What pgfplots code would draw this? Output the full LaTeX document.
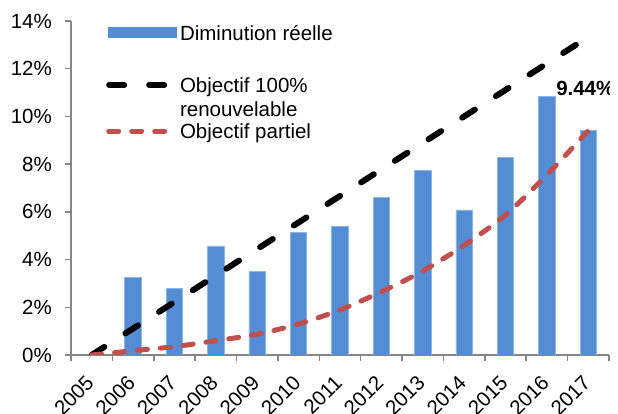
\documentclass[border=0pt]{standalone}
\usepackage{pgfplots}
\pgfplotsset{compat=1.18}
\usepackage{fontspec}
\setmainfont{Liberation Sans}
\definecolor{barblue}{RGB}{84,141,212}
\definecolor{baredge}{RGB}{141,180,226}
\definecolor{redline}{RGB}{192,80,77}
\definecolor{axgray}{RGB}{134,134,134}
\begin{document}
\begin{tikzpicture}[font=\fontsize{20.5}{24}\selectfont]
\begin{axis}[
  name=ax,
  scale only axis,
  width=538pt, height=334pt,
  xmin=-0.5, xmax=12.5, ymin=0, ymax=14,
  axis lines=left,
  axis line style={-, draw=axgray, line width=1.5pt},
  xtick={-0.5,0.5,1.5,2.5,3.5,4.5,5.5,6.5,7.5,8.5,9.5,10.5,11.5,12.5},
  x tick label as interval,
  xticklabels={2005,2006,2007,2008,2009,2010,2011,2012,2013,2014,2015,2016,2017},
  ytick={0,2,4,6,8,10,12,14},
  yticklabels={0\%,2\%,4\%,6\%,8\%,10\%,12\%,14\%},
  tick align=outside,
  major tick length=6pt,
  tick style={draw=axgray, line width=1.5pt},
  x tick label style={anchor=east, inner sep=0pt, xshift=-1.5pt, yshift=-18pt, rotate=45},
  y tick label style={anchor=east, inner sep=0pt, xshift=-13pt},
  legend style={at={(rel axis cs:0.065,1)}, anchor=north west, yshift=-3pt,
    draw=none, fill=none, inner sep=0pt, row sep=0pt, column sep=0pt,
    nodes={inner xsep=3.5pt, inner ysep=1pt, text depth=}},
  legend cell align=left,
  legend style={cells={align=left}},
]
\addplot[ybar, bar width=16.5pt, bar shift=0pt, fill=barblue, draw=baredge, line width=0.75pt,
  legend image code/.code={\fill[barblue] (2pt,-5pt) rectangle (70pt,5pt);}]
  coordinates {(1,3.26) (2,2.79) (3,4.57) (4,3.49) (5,5.14) (6,5.38) (7,6.61) (8,7.75) (9,6.08) (10,8.28) (11,10.83) (12,9.43)};
\addlegendentry{Diminution réelle}
\addplot[black, line width=6pt, line cap=round, dash pattern=on 15pt off 25pt,
  legend image code/.code={\path[draw=none, fill=none] (0,0) -- (0,55.5pt); \draw[black, line width=6pt, line cap=round, dash pattern=on 15pt off 25pt] (3pt,12pt) -- (62pt,12pt);}]
  coordinates {(0,0) (1,1.111) (2,2.222) (3,3.333) (4,4.444) (5,5.556) (6,6.667) (7,7.778) (8,8.889) (9,10.0) (10,11.111) (11,12.222) (12,13.333)};
\addlegendentry{Objectif 100\%\\renouvelable}
\addplot[redline, line width=5pt, line cap=round, dash pattern=on 10pt off 13pt, smooth,
  legend image code/.code={\path[draw=none, fill=none] (0,0) -- (0,15.5pt); \draw[redline, line width=5pt, line cap=round, dash pattern=on 10pt off 13pt] (2.5pt,2pt) -- (60pt,2pt);}]
  coordinates {(0,0) (1,0.18) (2,0.35) (3,0.60) (4,0.87) (5,1.30) (6,1.89) (7,2.65) (8,3.52) (9,4.60) (10,5.87) (11,7.55) (12,9.40)};
\addlegendentry{Objectif partiel}
\node[font=\fontsize{20.5}{24}\selectfont\bfseries] at (axis cs:12,11.19) [xshift=-3pt] {9.44\%};
\end{axis}
\pgfresetboundingbox
\path[use as bounding box] ([xshift=-71pt,yshift=-59pt]ax.south west) rectangle ([xshift=9pt,yshift=21pt]ax.north east);
\end{tikzpicture}
\end{document}
